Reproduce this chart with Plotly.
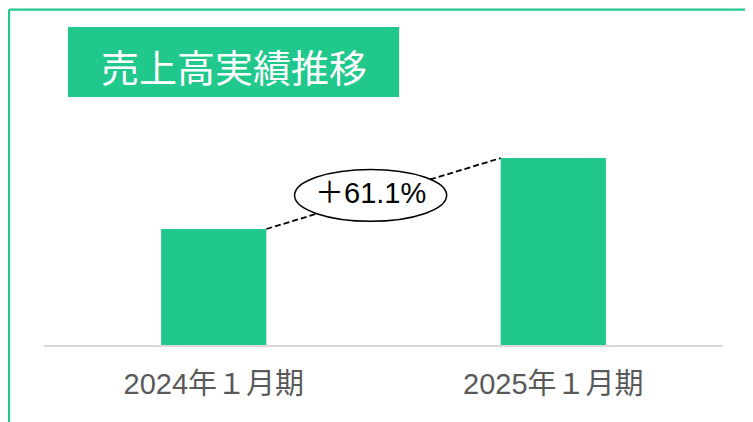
import plotly.graph_objects as go

categories = ["2024年１月期", "2025年１月期"]
values = [100.0, 161.1]
title_text = "売上高実績推移"
green = "#20C88B"

growth = (values[1] / values[0] - 1) * 100
growth_label = "＋{:.1f}%".format(growth)

bargap = 0.69
bar_w = 1 - bargap

fig = go.Figure()
fig.add_trace(go.Bar(x=[0, 1], y=values, marker=dict(color=green, line=dict(width=0)),
                     hoverinfo="skip"))

font_fam = "Liberation Sans, Arial, Noto Sans CJK JP"

shapes = []
# outer border (top & left)
bx, by = -0.0515, 1.446
shapes.append(dict(type="line", xref="paper", yref="paper", x0=bx, x1=1.2, y0=by, y1=by,
                   line=dict(color=green, width=2.2)))
shapes.append(dict(type="line", xref="paper", yref="paper", x0=bx, x1=bx, y0=by, y1=-0.6,
                   line=dict(color=green, width=2.2)))
# title box
shapes.append(dict(type="rect", xref="paper", yref="paper", x0=0.0353, x1=0.523, y0=1.069, y1=1.371,
                   fillcolor=green, line=dict(width=0)))
# dashed connector between bar tops
shapes.append(dict(type="line", xref="x", yref="y", x0=0 + bar_w / 2, x1=1 - bar_w / 2,
                   y0=values[0], y1=values[1], line=dict(color="black", width=1.8, dash="6px,3px")))
# ellipse
ecx, ecy = 0.462, 129.0
shapes.append(dict(type="circle", xref="x", yref="y", x0=ecx - 0.224, x1=ecx + 0.224,
                   y0=ecy - 22.4, y1=ecy + 22.4, fillcolor="white", line=dict(color="black", width=1.5)))

annotations = [
    dict(xref="paper", yref="paper", x=(0.0353 + 0.523) / 2, y=1.205, text=title_text, showarrow=False,
         font=dict(size=38, color="white", family="Noto Sans CJK JP"), xanchor="center", yanchor="middle"),
    dict(xref="x", yref="y", x=ecx + 0.0, y=ecy + 2, text=growth_label, showarrow=False,
         font=dict(size=29, color="black", family=font_fam), xanchor="center", yanchor="middle"),
]

fig.update_layout(
    width=753, height=422,
    margin=dict(l=36, r=38, t=105, b=85),
    paper_bgcolor="white", plot_bgcolor="white",
    bargap=bargap,
    showlegend=False,
    shapes=shapes,
    annotations=annotations,
    xaxis=dict(tickmode="array", tickvals=[0, 1], ticktext=categories, range=[-0.5, 1.5],
               showline=True, linecolor="#D9D9D9", linewidth=2, showgrid=False, zeroline=False,
               tickfont=dict(size=29, color="#595959", family=font_fam), ticks="",
               ticklabelstandoff=12, fixedrange=True),
    yaxis=dict(range=[0, 200], visible=False, showgrid=False, zeroline=False, fixedrange=True),
)

fig.write_html("out.html", config={"displayModeBar": False})
